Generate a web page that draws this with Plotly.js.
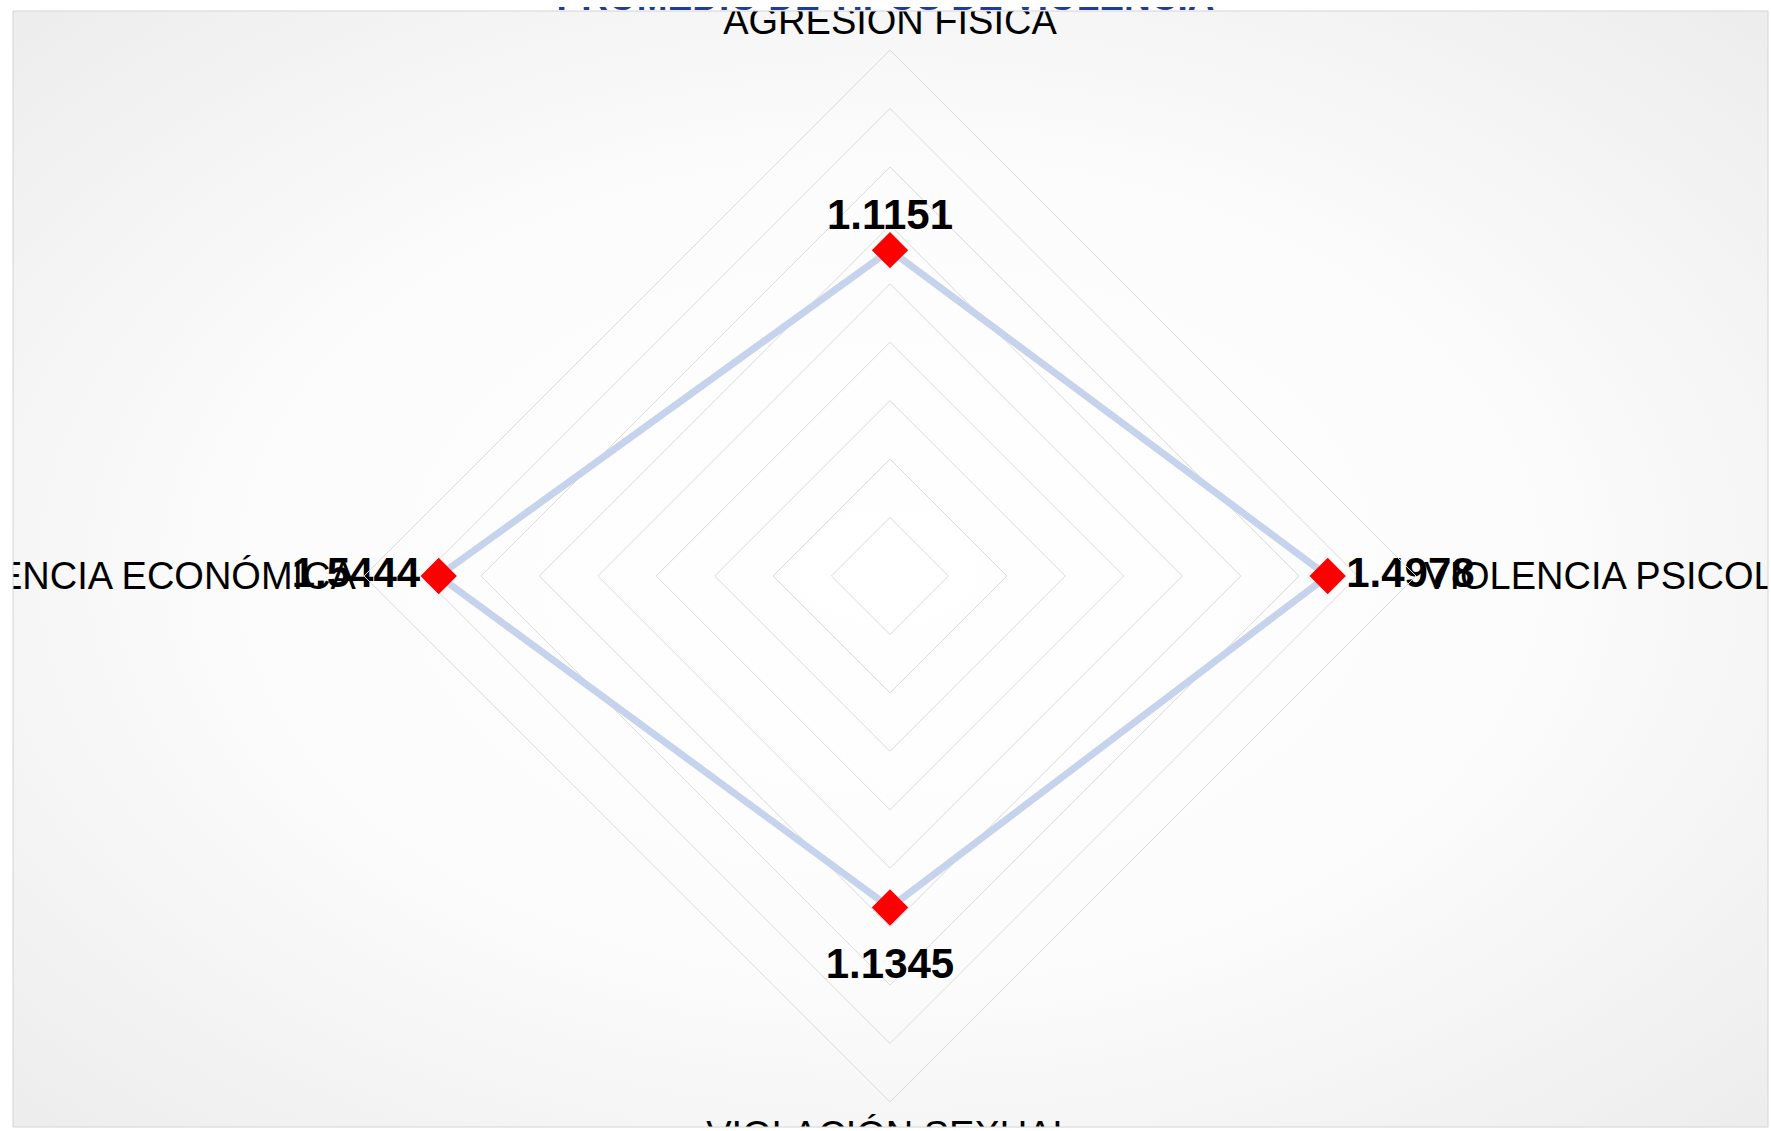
<!DOCTYPE html>
<html>
<head>
<meta charset="utf-8">
<script src="https://cdn.plot.ly/plotly-3.0.1.min.js"></script>
<style>
html,body{margin:0;padding:0;background:#fff;}
#wrap{position:relative;width:1771px;height:1131px;}
#chart{width:1771px;height:1131px;}
#topcover{position:absolute;left:0;top:0;width:1771px;height:7px;background:#fff;pointer-events:none;}
</style>
</head>
<body>
<div id="wrap">
<div id="chart"></div>
<div id="topcover"></div>
</div>
<script>
// Data
const categories = ['AGRESIÓN FÍSICA', 'VIOLENCIA PSICOLÓGICA', 'VIOLACIÓN SEXUAL', 'VIOLENCIA ECONÓMICA'];
const values = [1.1151, 1.4978, 1.1345, 1.5444];
const valueLabels = ['1.1151', '1.4978', '1.1345', '1.5444'];
const titleText = 'PROMEDIO DE TIPOS DE VIOLENCIA';

const W = 1771, H = 1131;
const FONT = 'Liberation Sans, Arial, sans-serif';

// chart area box (pixels)
const areaL = 13, areaR = 1768, areaT = 11, areaB = 1127;
const px = v => v / W;
const py = v => 1 - v / H;

const svg = "<svg xmlns='http://www.w3.org/2000/svg' width='1755' height='1116' preserveAspectRatio='none'>" +
  "<defs><radialGradient id='g' cx='50%' cy='50%' r='72%'>" +
  "<stop offset='0' stop-color='#ffffff'/><stop offset='0.5' stop-color='#fcfcfc'/><stop offset='1' stop-color='#ececec'/>" +
  "</radialGradient></defs><rect width='100%' height='100%' fill='url(#g)'/></svg>";
const bgSrc = 'data:image/svg+xml;charset=utf-8,' + encodeURIComponent(svg);

const closedR = values.concat([values[0]]);
const closedT = categories.concat([categories[0]]);

const traces = [
  {
    type: 'scatterpolar',
    r: closedR,
    theta: closedT,
    mode: 'lines',
    line: {color: '#c6d3ec', width: 7},
    hoverinfo: 'skip',
    showlegend: false
  },
  {
    type: 'scatterpolar',
    r: values,
    theta: categories,
    mode: 'markers',
    marker: {symbol: 'diamond', size: 28, color: '#ff0000', line: {width: 0}},
    showlegend: false
  },
  {
    // value labels (invisible markers only set the text offset)
    type: 'scatterpolar',
    r: values,
    theta: categories,
    mode: 'markers+text',
    marker: {symbol: 'circle', size: [16, 28, 60, 28], color: 'rgba(0,0,0,0)', line: {width: 0}},
    text: valueLabels,
    textposition: ['top center', 'middle right', 'bottom center', 'middle left'],
    textfont: {family: FONT, size: 42, color: '#000000', weight: 'bold'},
    cliponaxis: false,
    hoverinfo: 'skip',
    showlegend: false
  }
];

const cx = 890, cy = 576, R = 526;
const layout = {
  width: W, height: H,
  margin: {l: 0, r: 0, t: 0, b: 0},
  paper_bgcolor: '#ffffff',
  showlegend: false,
  title: {
    text: titleText,
    font: {family: FONT, size: 37, color: '#1f3c9a', weight: 'bold'},
    x: 0.5, xanchor: 'center',
    xref: 'paper',
    y: py(10), yref: 'container', yanchor: 'bottom'
  },
  polar: {
    domain: {x: [px(cx - R), px(cx + R)], y: [py(cy + R), py(cy - R)]},
    bgcolor: 'rgba(0,0,0,0)',
    gridshape: 'linear',
    radialaxis: {
      range: [0, 1.8], tick0: 0, dtick: 0.2,
      showticklabels: false, ticks: '', showline: false,
      gridcolor: '#dadada', gridwidth: 1
    },
    angularaxis: {
      rotation: 90, direction: 'clockwise',
      showgrid: false, showline: true, linecolor: '#dadada', linewidth: 1,
      ticks: '',
      tickfont: {family: FONT, size: 38, color: '#000000'}
    }
  },
  images: [{
    source: bgSrc, xref: 'paper', yref: 'paper',
    x: px(areaL), y: py(areaT), sizex: px(areaR - areaL), sizey: (areaB - areaT) / H,
    xanchor: 'left', yanchor: 'top', sizing: 'stretch', layer: 'below'
  }],
  shapes: [
    {type: 'rect', xref: 'paper', yref: 'paper', x0: 0, x1: 1, y0: py(areaT), y1: 1, fillcolor: '#ffffff', line: {width: 0}, layer: 'above'},
    {type: 'rect', xref: 'paper', yref: 'paper', x0: 0, x1: 1, y0: 0, y1: py(areaB), fillcolor: '#ffffff', line: {width: 0}, layer: 'above'},
    {type: 'rect', xref: 'paper', yref: 'paper', x0: 0, x1: px(areaL), y0: 0, y1: 1, fillcolor: '#ffffff', line: {width: 0}, layer: 'above'},
    {type: 'rect', xref: 'paper', yref: 'paper', x0: px(areaR), x1: 1, y0: 0, y1: 1, fillcolor: '#ffffff', line: {width: 0}, layer: 'above'},
    {type: 'rect', xref: 'paper', yref: 'paper', x0: px(areaL), x1: px(areaR), y0: py(areaB), y1: py(areaT), fillcolor: 'rgba(0,0,0,0)', line: {width: 1, color: '#d4d4d4'}, layer: 'above'}
  ]
};

Plotly.newPlot('chart', traces, layout, {displayModeBar: false, staticPlot: true});
</script>
</body>
</html>
